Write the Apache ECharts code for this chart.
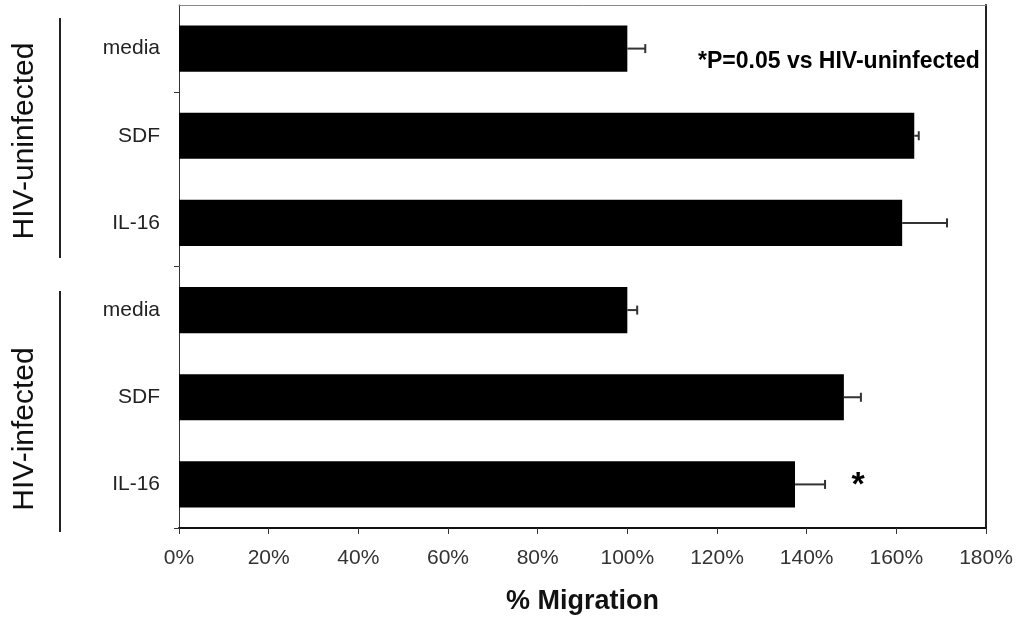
<!DOCTYPE html>
<html>
<head>
<meta charset="utf-8">
<script src="https://cdn.jsdelivr.net/npm/echarts@6/dist/echarts.min.js"></script>
<style>
  html, body { margin: 0; padding: 0; background: #fff; }
  #chart { width: 1021px; height: 622px; }
</style>
</head>
<body>
<div id="chart"></div>
<script>
// categories top to bottom
const categories = ['media', 'SDF', 'IL-16', 'media', 'SDF', 'IL-16'];
const groups = ['HIV-uninfected', 'HIV-infected'];
// % migration and error (SEM)
const migration = [100, 164, 161.3, 100, 148.3, 137.4];
const errors = [4, 1, 10, 2.2, 3.8, 6.7];
const significant = [false, false, false, false, false, true];
const xTicks = [0, 20, 40, 60, 80, 100, 120, 140, 160, 180];
const note = '*P=0.05 vs HIV-uninfected';

const chart = echarts.init(document.getElementById('chart'));

const errData = migration.map((v, i) => [v, i, errors[i], significant[i] ? 1 : 0]);

const option = {
  animation: false,
  grid: { left: 179, right: 35, top: 5, bottom: 94, containLabel: false },
  xAxis: [
    {
      type: 'value',
      min: xTicks[0],
      max: xTicks[xTicks.length - 1],
      interval: 20,
      position: 'bottom',
      splitLine: { show: false },
      axisLine: { show: true, lineStyle: { color: '#111', width: 2 } },
      axisTick: { show: true, length: 6, lineStyle: { color: '#333' } },
      axisLabel: {
        formatter: '{value}%',
        fontFamily: 'Liberation Sans',
        fontSize: 21,
        color: '#333',
        margin: 20
      },
      name: '% Migration',
      nameLocation: 'middle',
      nameGap: 60,
      nameTextStyle: {
        fontFamily: 'Liberation Sans',
        fontWeight: 'bold',
        fontSize: 27,
        color: '#111'
      }
    },
    {
      type: 'value',
      min: 0,
      max: 180,
      position: 'top',
      axisLine: { show: true, onZero: false, lineStyle: { color: '#888', width: 1 } },
      axisTick: { show: false },
      axisLabel: { show: false },
      splitLine: { show: false }
    }
  ],
  yAxis: [
    {
      type: 'category',
      data: categories,
      inverse: true,
      axisLine: { show: true, lineStyle: { color: '#333', width: 1 } },
      axisTick: {
        show: true,
        length: 5,
        interval: (idx) => idx === 1 || idx === 3,
        lineStyle: { color: '#333' }
      },
      axisLabel: {
        fontFamily: 'Liberation Sans',
        fontSize: 21,
        color: '#222',
        margin: 19
      }
    },
    {
      type: 'category',
      data: categories,
      inverse: true,
      position: 'right',
      axisLine: { show: true, onZero: false, lineStyle: { color: '#222', width: 2 } },
      axisTick: { show: false },
      axisLabel: { show: false }
    }
  ],
  series: [
    {
      type: 'bar',
      data: migration,
      barCategoryGap: '47%',
      itemStyle: { color: '#000' }
    },
    {
      type: 'custom',
      data: errData,
      encode: { x: 0, y: 1 },
      z: 3,
      renderItem: function (params, api) {
        const v = api.value(0);
        const cat = api.value(1);
        const e = api.value(2);
        const p0 = api.coord([v, cat]);
        const p1 = api.coord([v + e, cat]);
        const cap = 4.5;
        const style = { stroke: '#333', lineWidth: 2 };
        const children = [
          { type: 'line', shape: { x1: p0[0], y1: p0[1], x2: p1[0], y2: p1[1] }, style: style },
          { type: 'line', shape: { x1: p1[0], y1: p1[1] - cap, x2: p1[0], y2: p1[1] + cap }, style: style }
        ];
        if (api.value(3)) {
          children.push({
            type: 'text',
            style: {
              x: p1[0] + 33,
              y: p1[1] + 1,
              text: '*',
              fontFamily: 'Liberation Sans',
              fontWeight: 'bold',
              fontSize: 34,
              fill: '#000',
              align: 'center',
              verticalAlign: 'middle'
            }
          });
        }
        return { type: 'group', children: children };
      }
    }
  ],
  graphic: [
    {
      type: 'text',
      x: 698,
      y: 62,
      style: {
        text: note,
        fontFamily: 'Liberation Sans',
        fontWeight: 'bold',
        fontSize: 23,
        fill: '#000',
        verticalAlign: 'middle'
      }
    },
    {
      type: 'line',
      shape: { x1: 60, y1: 18, x2: 60, y2: 258 },
      style: { stroke: '#222', lineWidth: 2 }
    },
    {
      type: 'line',
      shape: { x1: 60, y1: 291, x2: 60, y2: 532 },
      style: { stroke: '#222', lineWidth: 2 }
    },
    {
      type: 'text',
      x: 25,
      y: 141,
      rotation: Math.PI / 2,
      style: {
        text: groups[0],
        fontFamily: 'Liberation Sans',
        fontSize: 30,
        fill: '#111',
        align: 'center',
        verticalAlign: 'middle'
      }
    },
    {
      type: 'text',
      x: 25,
      y: 429,
      rotation: Math.PI / 2,
      style: {
        text: groups[1],
        fontFamily: 'Liberation Sans',
        fontSize: 30,
        fill: '#111',
        align: 'center',
        verticalAlign: 'middle'
      }
    }
  ]
};

chart.setOption(option);
</script>
</body>
</html>
